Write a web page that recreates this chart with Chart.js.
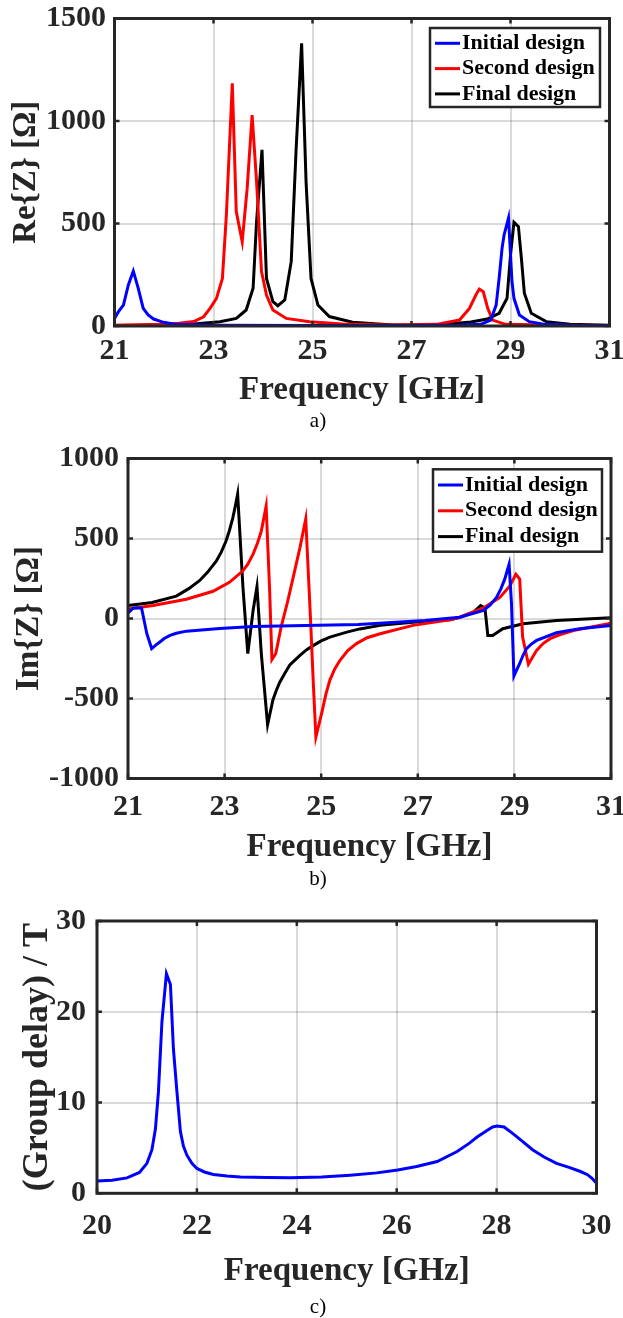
<!DOCTYPE html>
<html>
<head>
<meta charset="utf-8">
<script src="https://cdn.jsdelivr.net/npm/chart.js@4.4.1/dist/chart.umd.min.js"></script>
<style>
  body { margin: 0; background: #fff; }
  #page { position: relative; width: 623px; height: 1318px; overflow: hidden; }
  canvas { position: absolute; left: 0; }
  .cap { position: absolute; left: 318px; transform: translateX(-50%); font: 21px "Liberation Serif", serif; color: #000; line-height: 1; }
</style>
</head>
<body>
<div id="page">
  <canvas id="chartRe" width="623" height="440" style="top:0"></canvas>
  <canvas id="chartIm" width="623" height="440" style="top:440px"></canvas>
  <canvas id="chartGd" width="623" height="438" style="top:880px"></canvas>
  <div class="cap" style="top:410px">a)</div>
  <div class="cap" style="top:868px">b)</div>
  <div class="cap" style="top:1296px">c)</div>
</div>
<script>
// --- a) Re{Z} ---
const reInitF = [21.0, 21.08, 21.18, 21.28, 21.38, 21.48, 21.58, 21.68, 21.79, 21.99, 22.25, 23.0, 25.0, 27.0, 28.0, 28.4, 28.6, 28.71, 28.77, 28.83, 28.87, 28.96, 29.03, 29.07, 29.18, 29.38, 29.7, 30.2, 31.0];
const reInitV = [37, 70, 102, 200, 268, 184, 86, 54, 34, 18, 8, 4, 3, 3, 5, 8, 29, 102, 232, 380, 444, 527, 216, 135, 54, 21, 8, 4, 2];

const reSecF = [21.0, 22.0, 22.3, 22.6, 22.8, 22.93, 23.06, 23.18, 23.26, 23.38, 23.46, 23.58, 23.68, 23.78, 23.87, 23.97, 24.07, 24.2, 24.47, 24.94, 25.6, 26.5, 27.5, 27.97, 28.17, 28.3, 28.37, 28.45, 28.54, 28.64, 28.9, 30.0, 31.0];
const reSecV = [4, 8, 13, 22, 45, 86, 135, 232, 541, 1184, 558, 411, 671, 1029, 704, 265, 151, 78, 37, 21, 10, 5, 8, 29, 86, 151, 180, 167, 86, 29, 8, 4, 3];

const reFinF = [21.0, 22.0, 22.6, 23.13, 23.46, 23.66, 23.8, 23.87, 23.98, 24.07, 24.2, 24.3, 24.44, 24.57, 24.67, 24.78, 24.87, 24.97, 25.11, 25.34, 25.81, 26.62, 27.5, 28.2, 28.53, 28.77, 28.93, 29.0, 29.07, 29.16, 29.22, 29.28, 29.42, 29.73, 30.2, 31.0];
const reFinV = [2, 5, 10, 21, 37, 78, 184, 509, 859, 232, 119, 99, 127, 314, 867, 1379, 704, 232, 102, 46, 18, 5, 5, 20, 34, 62, 135, 346, 506, 485, 330, 160, 62, 21, 8, 4];

// --- b) Im{Z} ---
const imInitF = [21.0, 21.11, 21.28, 21.39, 21.49, 21.58, 21.66, 21.75, 21.87, 22.0, 22.21, 22.9, 23.6, 24.4, 25.77, 27.15, 27.87, 28.36, 28.5, 28.63, 28.72, 28.8, 28.89, 28.94, 28.99, 29.05, 29.11, 29.18, 29.25, 29.35, 29.46, 29.87, 30.35, 31.0];
const imInitV = [33, 66, 66, -95, -188, -165, -147, -125, -106, -92, -79, -62, -50, -46, -37, -12, 8, 50, 85, 132, 185, 246, 339, 91, -360, -320, -281, -230, -188, -160, -137, -89, -64, -43];

const imSecF = [21.0, 21.52, 22.21, 22.76, 23.1, 23.38, 23.48, 23.59, 23.68, 23.76, 23.86, 23.93, 23.98, 24.06, 24.17, 24.3, 24.42, 24.56, 24.68, 24.78, 24.84, 24.89, 25.01, 25.1, 25.18, 25.28, 25.39, 25.55, 25.73, 25.95, 26.22, 26.9, 27.67, 27.87, 28.36, 28.7, 28.91, 29.03, 29.11, 29.17, 29.29, 29.46, 29.6, 29.74, 29.95, 30.22, 31.0];
const imSecV = [60, 81, 120, 170, 226, 298, 340, 402, 470, 546, 702, 195, -257, -219, -54, 100, 257, 443, 623, -12, -426, -741, -592, -470, -385, -315, -261, -200, -157, -120, -95, -43, -8, 8, 66, 132, 205, 277, 246, -116, -286, -199, -155, -126, -100, -75, -29];

const imFinF = [21.0, 21.5, 22.0, 22.25, 22.48, 22.65, 22.83, 22.93, 23.03, 23.1, 23.17, 23.22, 23.27, 23.38, 23.48, 23.59, 23.67, 23.76, 23.89, 24.0, 24.07, 24.14, 24.25, 24.35, 24.56, 24.7, 24.84, 25.0, 25.18, 25.53, 25.8, 26.22, 26.9, 27.67, 27.87, 28.15, 28.3, 28.39, 28.45, 28.55, 28.76, 29.18, 29.87, 31.0];
const imFinV = [81, 100, 140, 185, 236, 290, 360, 415, 484, 550, 629, 700, 778, 195, -219, 50, 199, -219, -664, -509, -450, -400, -340, -290, -230, -195, -168, -140, -116, -85, -65, -43, -23, -8, 8, 39, 81, 66, -106, -106, -64, -33, -12, 4];

// --- c) group delay ---
const gdF = [20.0, 20.3, 20.6, 20.85, 21.0, 21.1, 21.17, 21.23, 21.3, 21.39, 21.47, 21.53, 21.6, 21.67, 21.73, 21.8, 21.9, 22.0, 22.15, 22.33, 22.6, 22.87, 23.4, 23.87, 24.5, 25.07, 25.6, 26.02, 26.4, 26.81, 27.21, 27.45, 27.61, 27.8, 27.92, 28.01, 28.15, 28.32, 28.5, 28.72, 28.95, 29.2, 29.45, 29.68, 29.82, 29.91, 30.0];
const gdV = [1.35, 1.45, 1.7, 2.3, 3.3, 4.8, 7.1, 11.2, 18.9, 24.2, 23.0, 15.9, 11.2, 6.8, 5.2, 4.2, 3.3, 2.74, 2.35, 2.08, 1.9, 1.79, 1.73, 1.72, 1.8, 2.0, 2.25, 2.56, 2.95, 3.5, 4.6, 5.5, 6.2, 6.9, 7.3, 7.4, 7.3, 6.6, 5.8, 4.8, 4.0, 3.3, 2.85, 2.4, 2.05, 1.65, 1.1];

const seriesNames = ['Initial design', 'Second design', 'Final design'];
const seriesColors = ['#0000ff', '#ff0000', '#000000'];

const ticksX10 = [21, 23, 25, 27, 29, 31];
const ticksXgd = [20, 22, 24, 26, 28, 30];
const ticksYre = [0, 500, 1000, 1500];
const ticksYim = [-1000, -500, 0, 500, 1000];
const ticksYgd = [0, 10, 20, 30];

const axisColor = '#262626';
const gridColor = 'rgba(38,38,38,0.17)';
const fontFamily = '"Liberation Serif", "Times New Roman", serif';

function pts(f, v) {
  return f.map((x, i) => ({ x: x, y: v[i] }));
}

function line(label, color, f, v) {
  return { label: label, data: pts(f, v), borderColor: color, backgroundColor: color, borderWidth: 3, pointRadius: 0, tension: 0, fill: false };
}

const framePlugin = {
  id: 'matlabFrame',
  afterDatasetsDraw(chart) {
    const { ctx, chartArea: a, scales: { x, y } } = chart;
    ctx.save();
    ctx.strokeStyle = axisColor;
    ctx.lineWidth = 2.5;
    ctx.beginPath();
    x.ticks.forEach(t => {
      const px = x.getPixelForValue(t.value);
      ctx.moveTo(px, a.bottom); ctx.lineTo(px, a.bottom - 5);
      ctx.moveTo(px, a.top); ctx.lineTo(px, a.top + 5);
    });
    y.ticks.forEach(t => {
      const py = y.getPixelForValue(t.value);
      ctx.moveTo(a.left, py); ctx.lineTo(a.left + 5, py);
      ctx.moveTo(a.right, py); ctx.lineTo(a.right - 5, py);
    });
    ctx.stroke();
    ctx.lineWidth = 3;
    ctx.strokeRect(a.left, a.top, a.right - a.left, a.bottom - a.top);
    ctx.restore();
  }
};

const legendPlugin = {
  id: 'boxLegend',
  afterDraw(chart, args, opts) {
    if (!opts || !opts.width) return;
    const ctx = chart.ctx;
    ctx.save();
    ctx.fillStyle = '#fff';
    ctx.fillRect(opts.left, opts.top, opts.width, opts.height);
    ctx.lineWidth = 2.5;
    ctx.strokeStyle = axisColor;
    ctx.strokeRect(opts.left, opts.top, opts.width, opts.height);
    ctx.font = 'bold 22px ' + fontFamily;
    ctx.textBaseline = 'middle';
    ctx.textAlign = 'left';
    chart.data.datasets.forEach((ds, i) => {
      const yy = opts.top + opts.firstRow + i * opts.rowGap;
      ctx.strokeStyle = ds.borderColor;
      ctx.lineWidth = 3;
      ctx.beginPath();
      ctx.moveTo(opts.left + 5, yy);
      ctx.lineTo(opts.left + 30, yy);
      ctx.stroke();
      ctx.fillStyle = '#000';
      ctx.fillText(ds.label, opts.left + 32, yy);
    });
    ctx.restore();
  }
};

function makeChart(id, datasets, cfg) {
  const canvas = document.getElementById(id);
  const W = canvas.width, H = canvas.height;
  const tickFont = { family: fontFamily, size: 30, weight: 'bold' };
  return new Chart(canvas, {
    type: 'line',
    data: { datasets: datasets },
    options: {
      responsive: false,
      animation: false,
      layout: { padding: { top: cfg.area.top, right: W - cfg.area.right, left: 0, bottom: 0 } },
      plugins: {
        legend: { display: false },
        tooltip: { enabled: false },
        boxLegend: cfg.legend || {}
      },
      scales: {
        x: {
          type: 'linear', min: cfg.xTicks[0], max: cfg.xTicks[cfg.xTicks.length - 1],
          afterBuildTicks: s => { s.ticks = cfg.xTicks.map(v => ({ value: v })); },
          afterFit: s => { s.height = H - cfg.area.bottom; s.paddingLeft = 0; s.paddingRight = 0; },
          grid: { color: gridColor, lineWidth: 2, drawTicks: false },
          border: { display: false },
          ticks: { padding: cfg.xTickPad, maxRotation: 0, autoSkip: false, color: axisColor, font: tickFont, callback: v => String(v) },
          title: { display: true, text: 'Frequency [GHz]', color: axisColor, font: { family: fontFamily, size: 33, weight: 'bold' }, padding: { top: 0, bottom: cfg.xTitlePad } }
        },
        y: {
          type: 'linear', min: cfg.yTicks[0], max: cfg.yTicks[cfg.yTicks.length - 1],
          afterBuildTicks: s => { s.ticks = cfg.yTicks.map(v => ({ value: v })); },
          afterFit: s => { s.width = cfg.area.left; s.paddingTop = 0; s.paddingBottom = 0; },
          grid: { color: gridColor, lineWidth: 2, drawTicks: false },
          border: { display: false },
          ticks: { padding: cfg.yTickPad, autoSkip: false, color: axisColor, font: tickFont, callback: v => String(v) },
          title: { display: true, text: cfg.yTitle, color: axisColor, font: { family: fontFamily, size: cfg.yTitleSize, weight: 'bold' }, padding: { top: cfg.yTitlePad, bottom: 0 } }
        }
      }
    },
    plugins: [framePlugin, legendPlugin]
  });
}

makeChart('chartRe', [
  line(seriesNames[0], seriesColors[0], reInitF, reInitV),
  line(seriesNames[1], seriesColors[1], reSecF, reSecV),
  line(seriesNames[2], seriesColors[2], reFinF, reFinV)
], {
  area: { left: 114.5, right: 609.5, top: 18.5, bottom: 326 },
  xTicks: ticksX10, yTicks: ticksYre,
  xTickPad: 7, yTickPad: 8.5, xTitlePad: 30, yTitlePad: 7,
  yTitle: 'Re{Z} [Ω]', yTitleSize: 33,
  legend: { left: 430, top: 28, width: 170, height: 79, firstRow: 15.3, rowGap: 25.3 }
});

makeChart('chartIm', [
  line(seriesNames[0], seriesColors[0], imInitF, imInitV),
  line(seriesNames[1], seriesColors[1], imSecF, imSecV),
  line(seriesNames[2], seriesColors[2], imFinF, imFinV)
], {
  area: { left: 128, right: 611, top: 18.5, bottom: 338.5 },
  xTicks: ticksX10, yTicks: ticksYim,
  xTickPad: 10.5, yTickPad: 9, xTitlePad: 13, yTitlePad: 10,
  yTitle: 'Im{Z} [Ω]', yTitleSize: 33,
  legend: { left: 433, top: 29.3, width: 169, height: 82.4, firstRow: 15.7, rowGap: 25.8 }
});

makeChart('chartGd', [
  line('Group delay', seriesColors[0], gdF, gdV)
], {
  area: { left: 97, right: 596.5, top: 41, bottom: 313.3 },
  xTicks: ticksXgd, yTicks: ticksYgd,
  xTickPad: 14.7, yTickPad: 11, xTitlePad: 27, yTitlePad: 16,
  yTitle: '(Group delay) / T', yTitleSize: 36,
  legend: false
});
</script>
</body>
</html>
